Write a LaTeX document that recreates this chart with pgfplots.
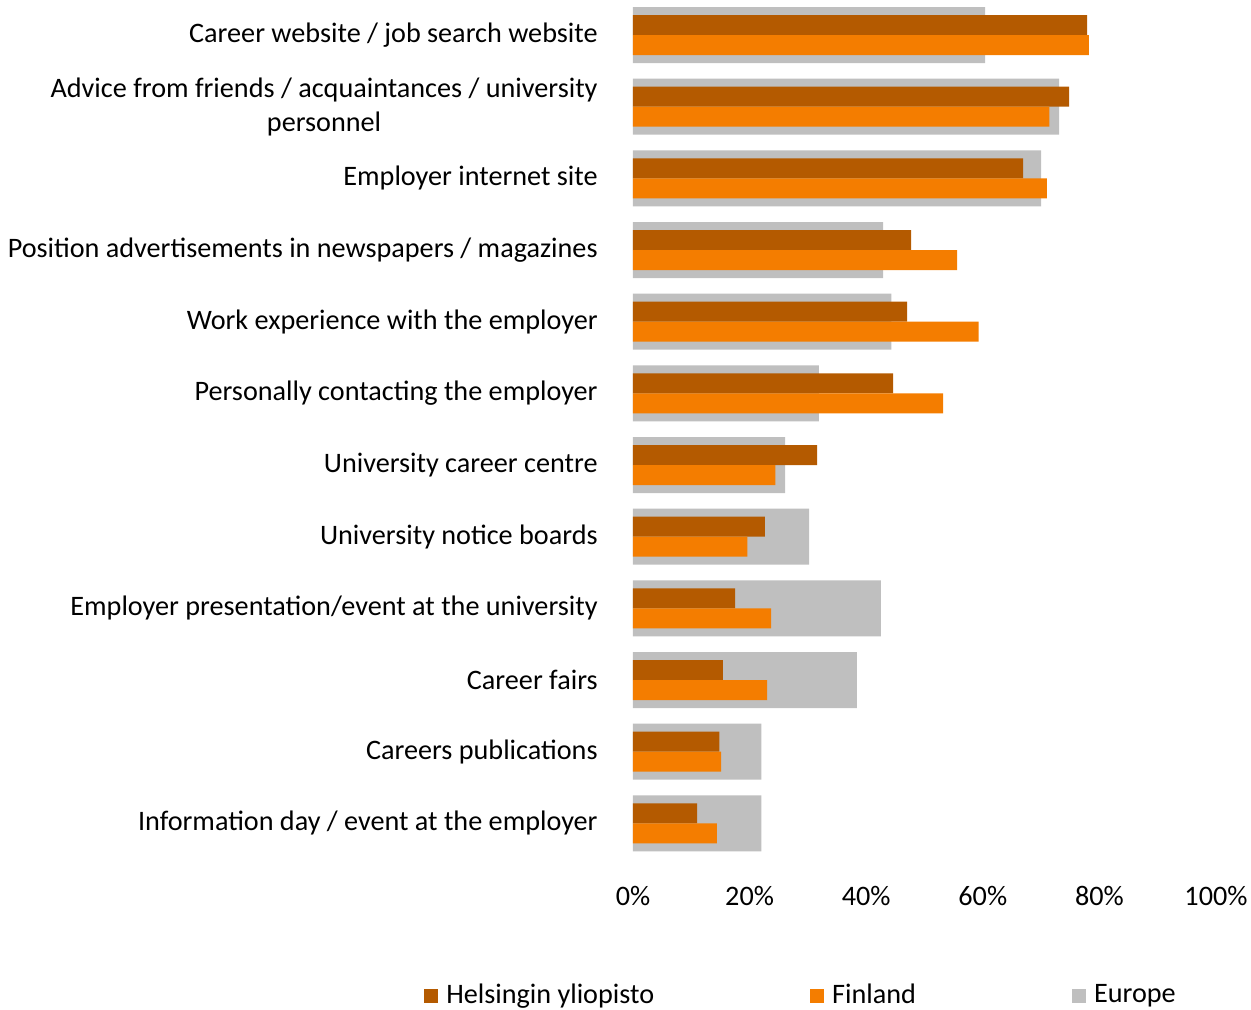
\documentclass[border=0pt]{standalone}
\usepackage{pgfplots}
\pgfplotsset{compat=1.18}
\usepackage{pgfplotstable}
\usepackage{fontspec}
\setmainfont{Carlito}

\definecolor{hel}{RGB}{180,90,0}
\definecolor{fin}{RGB}{244,125,0}
\definecolor{eur}{RGB}{191,191,191}

\pgfplotsset{sq/.style={legend image code/.code={\fill[##1] (0pt,-3.5pt) rectangle (7pt,3.5pt);}}}

% y = 11 is the top category
\pgfplotstableread{
y  hel   fin   eur
11 77.9  78.2  60.4
10 74.8  71.4  73.1
9  66.9  71.0  70.0
8  47.7  55.6  42.9
7  47.0  59.3  44.3
6  44.6  53.2  31.9
5  31.6  24.4  26.1
4  22.6  19.6  30.2
3  17.5  23.7  42.5
2  15.4  23.0  38.4
1  14.8  15.1  22.0
0  11.0  14.4  22.0
}\data

\begin{document}
\fontsize{14.1}{17}\selectfont
\begin{tikzpicture}
\path[use as bounding box] (-316.5pt,-74.9pt) rectangle (309pt,429.6pt);
\begin{axis}[
    at={(0,0)}, anchor=south west,
    scale only axis, width=291.5pt, height=430pt,
    xmin=0, xmax=100, ymin=-0.5, ymax=11.5,
    axis line style={draw=none},
    tick style={draw=none},
    xtick={0,20,...,100},
    xticklabel={\pgfmathprintnumber{\tick}\%},
    /pgf/number format/assume math mode=true,
    xticklabel style={inner sep=0pt, yshift=-13.5pt},
    ytick={0,...,11},
    yticklabels={
        Information day / event at the employer,
        Careers publications,
        Career fairs,
        Employer presentation/event at the university,
        University notice boards,
        University career centre,
        Personally contacting the employer,
        Work experience with the employer,
        Position advertisements in newspapers / magazines,
        Employer internet site,
        {Advice from friends / acquaintances / university\\personnel},
        Career website / job search website},
    yticklabel style={align=center, inner sep=0pt, xshift=-17.5pt},
    ticklabel style={font=\fontsize{14.1}{17}\selectfont},
    legend columns=3,
    legend style={at={(rel axis cs:-0.369,-0.1585)}, anchor=west, draw=none, fill=none,
        font=\fontsize{14.1}{17}\selectfont,
        /tikz/every odd column/.append style={column sep=2pt},
        /tikz/every even column/.append style={column sep=76pt}},
]
\addplot[xbar, bar width=28pt, bar shift=0pt, fill=eur, draw=none, forget plot] table[x=eur, y=y] {\data};
\addplot[xbar, bar width=10pt, bar shift=5pt, fill=hel, draw=none, sq] table[x=hel, y=y] {\data};
\addlegendentry{Helsingin yliopisto}
\addplot[xbar, bar width=10pt, bar shift=-5pt, fill=fin, draw=none, sq] table[x=fin, y=y] {\data};
\addlegendentry{Finland}
\addlegendimage{fill=eur, draw=none, sq}
\addlegendentry{Europe}
\end{axis}
\end{tikzpicture}
\end{document}
